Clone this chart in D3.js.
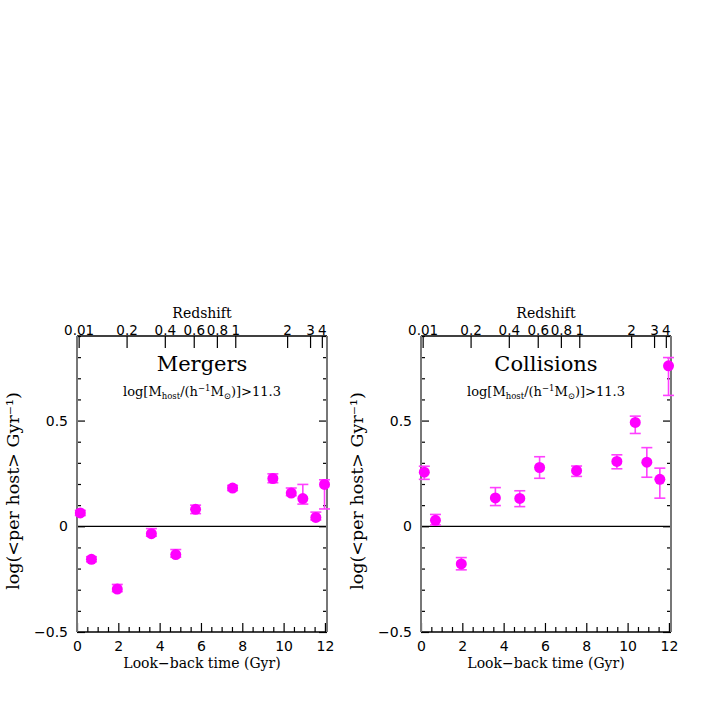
<html>
<head>
<script src="https://cdn.jsdelivr.net/npm/d3@7"></script>
<style>
  body { margin: 0; background: #fff; }
  svg { display: block; }
  .num { font-family: "DejaVu Sans", sans-serif; font-size: 14px; fill: #000; }
  .lab { font-family: "DejaVu Serif", serif; fill: #000; }
</style>
</head>
<body>
<div id="chart"></div>
<script>
// look-back time (Gyr) of each bin, same in both panels
const lookback = [0.16, 0.70, 1.95, 3.60, 4.78, 5.74, 7.53, 9.48, 10.37, 10.93, 11.56, 11.98];

// Mergers panel
const mergerVals  = [0.063, -0.156, -0.297, -0.035, -0.134, 0.080, 0.181, 0.226, 0.157, 0.131, 0.042, 0.198];
const mergerErrHi = [0.012, 0.012, 0.022, 0.024, 0.024, 0.020, 0.012, 0.022, 0.024, 0.067, 0.025, 0.022];
const mergerErrLo = [0.012, 0.012, 0.012, 0.012, 0.012, 0.020, 0.012, 0.020, 0.012, 0.026, 0.012, 0.116];

// Collisions panel
const collisionVals  = [0.256, 0.028, -0.178, 0.134, 0.132, 0.278, 0.263, 0.307, 0.491, 0.303, 0.222, 0.759];
const collisionErrHi = [0.028, 0.028, 0.030, 0.049, 0.036, 0.051, 0.022, 0.031, 0.030, 0.069, 0.053, 0.039];
const collisionErrLo = [0.034, 0.022, 0.028, 0.036, 0.039, 0.051, 0.027, 0.035, 0.052, 0.071, 0.089, 0.140];

// top axis: redshift labels and where they sit in look-back time
const zTickLabels = ["0.01", "0.2", "0.4", "0.6", "0.8", "1", "2", "3", "4"];
const zTickTimes  = [0.08, 2.40, 4.25, 5.65, 6.77, 7.66, 10.17, 11.28, 11.85];

const xMajor = [0, 2, 4, 6, 8, 10, 12];
const yMajor = [-0.5, 0, 0.5];
const yMajorLabels = ["\u22120.5", "0", "0.5"];

const titles = ["Mergers", "Collisions"];

const width = 708, height = 708;
const plotTop = 336, plotBottom = 632;
const panelLefts = [77, 421];
const panelW = 250;

const svg = d3.select("#chart").append("svg")
  .attr("width", width).attr("height", height);

const y = d3.scaleLinear().domain([-0.5, 0.9]).range([plotBottom, plotTop]);

function drawPanel(left, title, vals, hi, lo) {
  const x = d3.scaleLinear().domain([0, 12.1]).range([left, left + panelW]);
  const g = svg.append("g");

  // zero line
  g.append("line")
    .attr("x1", left).attr("x2", left + panelW)
    .attr("y1", y(0)).attr("y2", y(0))
    .attr("stroke", "#000").attr("stroke-width", 1.2);

  // bottom axis - minor then major
  const xMinor = d3.range(0, 12.01, 0.5).filter(v => v % 2 !== 0);
  g.append("g").attr("transform", `translate(0,${plotBottom})`)
    .call(d3.axisBottom(x).tickValues(xMinor).tickSize(-5).tickFormat(""))
    .call(a => a.select(".domain").remove());
  g.append("g").attr("transform", `translate(0,${plotBottom})`)
    .call(d3.axisBottom(x).tickValues(xMajor).tickSize(-9).tickPadding(6).tickFormat(d3.format("d")))
    .call(a => a.select(".domain").remove())
    .call(a => a.selectAll("text").attr("class", "num").attr("font-family", null).attr("font-size", null).attr("dy", "0.95em"));

  // top axis - redshift
  g.append("g").attr("transform", `translate(0,${plotTop})`)
    .call(d3.axisTop(x).tickValues(zTickTimes).tickSize(-12).tickPadding(1.5)
      .tickFormat((d, i) => zTickLabels[i]))
    .call(a => a.select(".domain").remove())
    .call(a => a.selectAll("text").attr("class", "num").attr("font-family", null).attr("font-size", null)
      .style("font-size", "13.5px"));

  // y ticks, left and right
  const yMinor = d3.range(-0.4, 0.91, 0.1).map(v => +v.toFixed(1)).filter(v => v !== 0 && v !== 0.5);
  g.append("g").attr("transform", `translate(${left},0)`)
    .call(d3.axisLeft(y).tickValues(yMinor).tickSize(-4).tickFormat(""))
    .call(a => a.select(".domain").remove());
  g.append("g").attr("transform", `translate(${left},0)`)
    .call(d3.axisLeft(y).tickValues(yMajor).tickSize(-8).tickPadding(9)
      .tickFormat((d, i) => yMajorLabels[i]))
    .call(a => a.select(".domain").remove())
    .call(a => a.selectAll("text").attr("class", "num").attr("font-family", null).attr("font-size", null));
  g.append("g").attr("transform", `translate(${left + panelW},0)`)
    .call(d3.axisRight(y).tickValues(yMinor).tickSize(-4).tickFormat(""))
    .call(a => a.select(".domain").remove());
  g.append("g").attr("transform", `translate(${left + panelW},0)`)
    .call(d3.axisRight(y).tickValues(yMajor).tickSize(-8).tickFormat(""))
    .call(a => a.select(".domain").remove());
  g.selectAll(".tick line").attr("stroke", "#000").attr("stroke-width", 1.2);

  // frame
  g.append("line").attr("x1", left).attr("x2", left + panelW).attr("y1", plotTop).attr("y2", plotTop)
    .attr("stroke", "#000").attr("stroke-width", 1.3);
  g.append("line").attr("x1", left).attr("x2", left + panelW).attr("y1", plotBottom).attr("y2", plotBottom)
    .attr("stroke", "#000").attr("stroke-width", 1.3);
  g.append("line").attr("x1", left).attr("x2", left).attr("y1", plotTop).attr("y2", plotBottom)
    .attr("stroke", "#777").attr("stroke-width", 2);
  g.append("line").attr("x1", left + panelW).attr("x2", left + panelW).attr("y1", plotTop).attr("y2", plotBottom)
    .attr("stroke", "#777").attr("stroke-width", 2);

  // labels
  g.append("text").attr("class", "lab")
    .attr("x", left + panelW / 2).attr("y", 318)
    .attr("text-anchor", "middle").attr("font-size", 14).text("Redshift");
  g.append("text").attr("class", "lab")
    .attr("x", left + panelW / 2).attr("y", 668)
    .attr("text-anchor", "middle").attr("font-size", 14).text("Look\u2212back time (Gyr)");
  g.append("text").attr("class", "lab")
    .attr("x", left + panelW / 2).attr("y", 371)
    .attr("text-anchor", "middle").attr("font-size", 21).text(title);

  const sub = g.append("text").attr("class", "lab")
    .attr("x", left + panelW / 2).attr("y", 396)
    .attr("text-anchor", "middle").attr("font-size", 13);
  sub.append("tspan").text("log[M");
  sub.append("tspan").attr("font-size", 8.5).attr("dy", 3).text("host");
  sub.append("tspan").attr("dy", -3).text("/(h");
  sub.append("tspan").attr("font-size", 8.5).attr("dy", -5).text("\u22121");
  sub.append("tspan").attr("dy", 5).text("M");
  sub.append("tspan").attr("font-size", 8.5).attr("dy", 3).text("\u2299");
  sub.append("tspan").attr("dy", -3).text(")]>11.3");

  g.append("text").attr("class", "lab")
    .attr("transform", `translate(${left - 58},491) rotate(-90)`)
    .attr("text-anchor", "middle").attr("font-size", 17.5)
    .text("log(<per host> Gyr\u207B\u00B9)");

  // data: error bars then points
  const pts = lookback.map((t, i) => ({ t, v: vals[i], hi: hi[i], lo: lo[i] }));
  const eb = g.append("g").attr("stroke", "#ff40ff").attr("stroke-width", 1.6);
  eb.selectAll("line.bar").data(pts).join("line").attr("class", "bar")
    .attr("x1", d => x(d.t)).attr("x2", d => x(d.t))
    .attr("y1", d => y(d.v + d.hi)).attr("y2", d => y(d.v - d.lo));
  eb.selectAll("line.caphi").data(pts).join("line").attr("class", "caphi")
    .attr("x1", d => x(d.t) - 5.5).attr("x2", d => x(d.t) + 5.5)
    .attr("y1", d => y(d.v + d.hi)).attr("y2", d => y(d.v + d.hi));
  eb.selectAll("line.caplo").data(pts).join("line").attr("class", "caplo")
    .attr("x1", d => x(d.t) - 5.5).attr("x2", d => x(d.t) + 5.5)
    .attr("y1", d => y(d.v - d.lo)).attr("y2", d => y(d.v - d.lo));
  g.append("g").selectAll("circle").data(pts).join("circle")
    .attr("cx", d => x(d.t)).attr("cy", d => y(d.v))
    .attr("r", 5.5).attr("fill", "#ff00ff");
}

drawPanel(panelLefts[0], titles[0], mergerVals, mergerErrHi, mergerErrLo);
drawPanel(panelLefts[1], titles[1], collisionVals, collisionErrHi, collisionErrLo);
</script>
</body>
</html>
